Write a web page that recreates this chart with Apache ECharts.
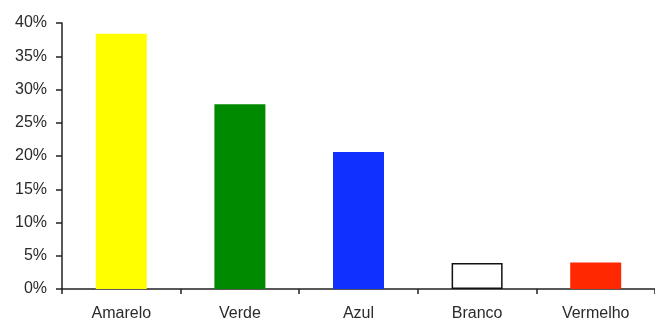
<!DOCTYPE html>
<html>
<head>
<meta charset="utf-8">
<script src="https://cdn.jsdelivr.net/npm/echarts@6/dist/echarts.min.js"></script>
<style>
  html, body { margin: 0; padding: 0; background: #fff; }
  #chart { width: 655px; height: 323px; }
</style>
</head>
<body>
<div id="chart"></div>
<script>
// Share of responses per colour (percent)
const categories = ['Amarelo', 'Verde', 'Azul', 'Branco', 'Vermelho'];
const values = [38.4, 27.8, 20.6, 3.9, 4.0];
const barColors = ['#ffff00', '#008a00', '#1030ff', '#ffffff', '#ff2800'];
const yTicks = [0, 5, 10, 15, 20, 25, 30, 35, 40];

const chart = echarts.init(document.getElementById('chart'));
chart.setOption({
  animation: false,
  grid: { left: 62, right: 0, top: 23, bottom: 34 },
  xAxis: {
    type: 'category',
    data: categories,
    axisLine: { lineStyle: { color: '#222', width: 1.5 } },
    axisTick: { show: true, length: 5, lineStyle: { color: '#222', width: 1.5 } },
    axisLabel: {
      color: '#2a2a2a', fontFamily: 'Liberation Sans, Arial, sans-serif',
      fontSize: 16, margin: 17
    }
  },
  yAxis: {
    type: 'value',
    min: yTicks[0],
    max: yTicks[yTicks.length - 1],
    interval: 5,
    splitLine: { show: false },
    axisLine: { show: true, lineStyle: { color: '#222', width: 1.5 } },
    axisTick: { show: true, length: 6, lineStyle: { color: '#222', width: 1.5 } },
    axisLabel: {
      color: '#2a2a2a', fontFamily: 'Liberation Sans, Arial, sans-serif',
      fontSize: 16, margin: 15,
      formatter: v => v + '%'
    }
  },
  series: [{
    type: 'bar',
    barWidth: '43%',
    data: values.map((v, i) => ({
      value: v,
      itemStyle: {
        color: barColors[i],
        borderColor: barColors[i] === '#ffffff' ? '#111' : barColors[i],
        borderWidth: barColors[i] === '#ffffff' ? 1.5 : 0
      }
    }))
  }]
});
</script>
</body>
</html>
